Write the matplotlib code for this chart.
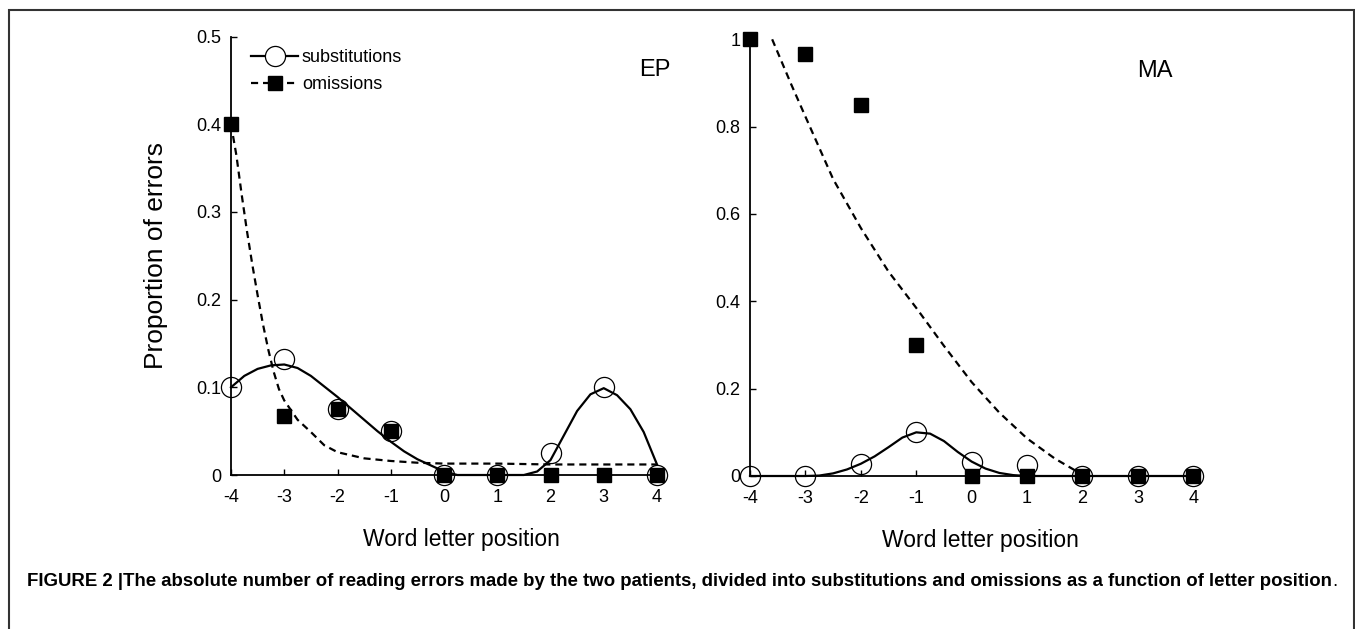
import numpy as np
import matplotlib.pyplot as plt
from matplotlib.patches import Rectangle
from matplotlib.lines import Line2D

plt.rcParams['font.family'] = ['Liberation Sans', 'DejaVu Sans']
plt.rcParams['axes.unicode_minus'] = False

# letter positions
positions = [-4, -3, -2, -1, 0, 1, 2, 3, 4]

# patient EP
ep_subst = [0.100, 0.132, 0.075, 0.050, 0.0, 0.0, 0.025, 0.100, 0.0]
ep_omit = [0.400, 0.067, 0.075, 0.050, 0.0, 0.0, 0.0, 0.0, 0.0]

# patient MA
ma_subst = [0.0, 0.0, 0.027, 0.100, 0.033, 0.025, 0.0, 0.0, 0.0]
ma_omit = [1.0, 0.966, 0.850, 0.300, 0.0, 0.0, 0.0, 0.0, 0.0]

# fitted curves
ep_subst_fit_x = [-4.0, -3.75, -3.5, -3.25, -3.0, -2.75, -2.5, -2.25, -2.0, -1.75,
                  -1.5, -1.25, -1.0, -0.75, -0.5, -0.25, 0.0, 0.25, 0.5, 1.0,
                  1.5, 1.75, 2.0, 2.25, 2.5, 2.75, 3.0, 3.25, 3.5, 3.75, 4.0]
ep_subst_fit_y = [0.100, 0.113, 0.121, 0.125, 0.126, 0.122, 0.113, 0.101, 0.089, 0.076,
                  0.063, 0.050, 0.038, 0.027, 0.018, 0.011, 0.004, 0.0, 0.0, 0.0,
                  0.0, 0.004, 0.017, 0.045, 0.073, 0.092, 0.099, 0.091, 0.075, 0.049, 0.012]

ep_omit_fit_x = [-4.0, -3.9, -3.8, -3.7, -3.6, -3.5, -3.4, -3.3, -3.2, -3.1, -3.0,
                 -2.75, -2.5, -2.25, -2.0, -1.5, -1.0, -0.5, 0.0, 1.0, 2.0, 3.0, 4.0]
ep_omit_fit_y = [0.400, 0.365, 0.320, 0.278, 0.240, 0.205, 0.172, 0.143, 0.118, 0.098, 0.085,
                 0.063, 0.049, 0.034, 0.026, 0.019, 0.016, 0.014, 0.013, 0.013, 0.012, 0.012, 0.012]

ma_subst_fit_x = [-4.0, -3.0, -2.75, -2.5, -2.25, -2.0, -1.75, -1.5, -1.25, -1.0,
                  -0.75, -0.5, -0.25, 0.0, 0.25, 0.5, 0.75, 1.0, 4.0]
ma_subst_fit_y = [0.0, 0.0, 0.001, 0.006, 0.015, 0.028, 0.045, 0.066, 0.088, 0.100,
                  0.097, 0.080, 0.055, 0.033, 0.017, 0.007, 0.002, 0.0, 0.0]

ma_omit_fit_x = [-3.6, -3.25, -3.0, -2.5, -2.0, -1.5, -1.0, -0.5, 0.0, 0.5, 1.0, 1.5, 2.0]
ma_omit_fit_y = [1.00, 0.895, 0.823, 0.680, 0.568, 0.468, 0.385, 0.298, 0.215, 0.145,
                 0.086, 0.040, 0.003]

W, H = 1355, 629
fig = plt.figure(figsize=(W / 100, H / 100), dpi=100)

DASH = (0, (3.2, 2.2))


def draw_panel(ax, subst, omit, sfx, sfy, ofx, ofy, ymax, yticks, yticklabels,
               tag, tagpos, xlabel_x):
    ax.plot(sfx, sfy, color='black', lw=1.6, clip_on=False)
    ax.plot(ofx, ofy, color='black', lw=1.6, linestyle=DASH, clip_on=False)
    ax.plot(positions, omit, 's', color='black', ms=9.5, clip_on=False, zorder=4)
    ax.plot(positions, subst, 'o', mfc='none', mec='black', mew=0.9, ms=14.5,
            clip_on=False, zorder=5)
    ax.set_xlim(-4, 4)
    ax.set_ylim(0, ymax)
    ax.set_xticks(positions)
    ax.set_yticks(yticks)
    ax.set_yticklabels(yticklabels)
    for side in ['top', 'right']:
        ax.spines[side].set_visible(False)
    for side in ['left', 'bottom']:
        ax.spines[side].set_linewidth(1.3)
    ax.tick_params(direction='in', length=4, width=1, labelsize=13)
    ax.tick_params(axis='x', pad=10)
    ax.tick_params(axis='y', pad=7)
    ax.set_xlabel('Word letter position', fontsize=16.5)
    ax.xaxis.set_label_coords(xlabel_x, -0.121)
    ax.text(tagpos[0], tagpos[1], tag, transform=ax.transAxes, fontsize=17,
            ha='center', va='center')


ax1 = fig.add_axes([231 / W, 1 - 475 / H, 426 / W, 438.5 / H])
draw_panel(ax1, ep_subst, ep_omit, ep_subst_fit_x, ep_subst_fit_y,
           ep_omit_fit_x, ep_omit_fit_y, 0.5,
           [0, 0.1, 0.2, 0.3, 0.4, 0.5], ['0', '0.1', '0.2', '0.3', '0.4', '0.5'],
           'EP', (0.995, 0.924), 0.54)
ax1.set_ylabel('Proportion of errors', fontsize=19, labelpad=20)

ax2 = fig.add_axes([750 / W, 1 - 476 / H, 443.3 / W, 436.7 / H])
draw_panel(ax2, ma_subst, ma_omit, ma_subst_fit_x, ma_subst_fit_y,
           ma_omit_fit_x, ma_omit_fit_y, 1.0,
           [0, 0.2, 0.4, 0.6, 0.8, 1.0], ['0', '0.2', '0.4', '0.6', '0.8', '1'],
           'MA', (0.914, 0.927), 0.52)

handles = [
    Line2D([], [], color='black', lw=1.6, marker='o', mfc='white', mec='black', ms=14.5, mew=0.9),
    Line2D([], [], color='black', lw=1.6, linestyle=DASH, marker='s', ms=9.5),
]
ax1.legend(handles, ['substitutions', 'omissions'], loc='upper left',
           bbox_to_anchor=(0.031, 0.987), frameon=False, fontsize=13,
           handlelength=2.6, handletextpad=0.2, labelspacing=0.55, borderaxespad=0)

# figure frame
fig.add_artist(Rectangle((9 / W, -0.2), (W - 10) / W, 1.2 - 10 / H, transform=fig.transFigure,
                         fill=False, edgecolor='#333333', lw=1.5))

cap = fig.text(27 / W, 1 - 581 / H,
               'FIGURE 2 |The absolute number of reading errors made by the two patients, '
               'divided into substitutions and omissions as a function of letter position',
               fontsize=13.4, fontweight='bold', ha='left', va='center')
fig.canvas.draw()
bb = cap.get_window_extent()
fig.text(bb.x1 / W, 1 - 581 / H, '.', fontsize=13.4, ha='left', va='center')

fig.savefig('out.png', dpi=100)
